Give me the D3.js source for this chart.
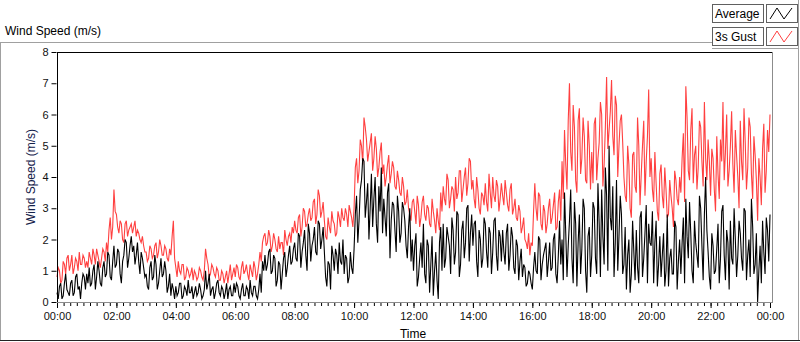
<!DOCTYPE html>
<meta charset="utf-8">
<title>Wind Speed</title>
<style>
body { margin: 0; background: #fff; }
svg { display: block; font-family: "Liberation Sans", Arial, sans-serif; }
.tick text { font-size: 11px; fill: #111; }
</style>
<svg width="800" height="342"></svg>
<script src="https://d3js.org/d3.v7.min.js"></script>
<script>
// readings on the 5-minute marks, 00:00 .. 24:00
const stepMinutes = 5;

const gust = [
  0.8,1.0,0.7,1.2,1.4,1.0,1.5,1.1,1.3,1.6,1.2,1.4,
  1.3,1.6,1.2,1.5,1.7,1.3,1.4,1.6,1.9,2.3,2.0,3.6,
  2.8,2.2,2.5,1.9,2.6,2.3,2.5,2.4,2.1,2.2,1.9,1.8,
  1.6,1.4,1.7,1.5,1.9,1.6,1.8,1.5,1.7,1.3,1.5,2.6,
  1.1,1.3,0.9,1.2,0.8,1.0,0.9,0.7,0.9,0.8,1.0,0.7,
  1.7,1.2,0.9,1.1,0.8,1.0,0.7,0.9,0.8,0.6,1.2,0.9,
  0.8,1.1,0.7,1.3,1.0,0.9,1.2,0.8,1.1,0.9,1.6,1.9,
  2.2,1.9,2.1,1.8,2.0,1.6,1.7,1.9,2.3,1.8,2.2,2.4,
  2.6,2.2,2.8,2.4,2.9,2.5,3.0,2.7,3.3,2.8,3.4,2.9,
  2.6,2.0,2.4,2.9,2.5,2.2,2.7,3.0,2.6,2.8,3.1,2.7,
  3.0,4.6,4.2,5.0,5.9,5.2,4.8,5.4,4.6,4.9,4.3,5.1,
  4.4,4.0,4.7,4.1,4.3,3.6,3.9,3.4,3.7,3.2,3.0,2.6,
  3.3,2.5,3.1,2.7,3.4,2.6,3.0,2.4,2.9,2.2,2.6,3.5,
  3.7,3.1,3.9,3.3,3.6,4.0,3.5,4.2,3.6,4.3,3.8,4.5,
  3.9,3.0,3.6,2.8,3.4,3.8,2.9,3.5,4.0,3.2,3.7,3.3,
  3.4,3.9,3.1,3.6,2.8,3.3,2.6,2.9,2.4,2.0,1.7,1.5,
  1.8,3.8,2.6,3.4,2.3,2.9,2.5,3.3,2.7,3.5,2.4,3.6,
  4.5,5.5,3.6,7.0,4.2,5.6,3.5,6.2,4.6,5.3,3.8,5.0,
  4.8,5.7,3.9,5.1,6.0,4.4,7.2,5.5,7.1,4.7,6.3,5.0,
  6.0,4.0,3.2,4.4,2.7,4.8,3.5,5.0,4.1,5.8,4.5,6.8,
  4.6,3.2,3.8,2.6,4.4,3.0,3.6,2.8,3.4,2.4,3.9,3.1,
  3.5,5.4,6.9,4.2,5.5,3.8,5.0,4.3,5.6,3.7,4.6,5.2,
  3.4,4.6,2.9,4.1,5.2,6.4,4.8,3.7,5.0,4.4,5.5,4.0,
  5.8,3.9,5.1,4.3,5.6,3.3,4.7,2.6,4.0,4.9,3.5,5.5,6.0
];

// readings half way between the 5-minute marks
const gustHalf = [
  1.1,0.6,1.3,0.9,1.5,1.2,0.9,1.4,1.0,1.2,1.5,1.1,
  1.1,1.4,1.7,1.2,1.5,1.1,1.7,1.3,1.6,2.7,2.4,2.9,
  2.4,2.6,2.0,2.5,2.1,2.4,2.2,2.6,2.3,2.0,2.1,1.6,
  1.3,1.8,1.4,1.8,1.4,2.0,1.5,1.8,1.4,1.7,2.1,1.4,
  0.8,1.0,1.2,0.7,1.1,0.8,1.1,1.0,0.7,1.1,0.8,1.0,
  1.4,0.8,1.2,0.9,1.1,0.7,1.0,0.6,1.0,0.9,0.7,1.1,
  1.2,0.8,1.1,0.9,1.2,0.7,1.0,1.3,0.7,1.2,1.3,2.1,
  1.8,2.3,1.6,2.2,1.7,2.1,1.9,1.5,2.0,2.1,1.9,2.2,
  2.3,2.7,2.1,3.0,2.4,2.8,2.6,3.2,2.5,3.6,2.7,3.2,
  2.1,2.7,2.2,2.6,2.1,2.9,2.4,2.7,3.0,2.4,2.9,2.4,
  4.3,3.8,5.2,4.4,5.6,4.5,5.1,4.2,5.3,4.0,4.8,4.1,
  3.7,4.4,3.8,4.5,3.7,4.2,3.5,4.0,3.1,3.6,2.8,3.2,
  2.9,3.4,2.4,3.2,2.8,3.1,2.5,3.3,2.6,3.0,2.3,2.9,
  3.3,4.1,3.0,3.7,2.9,3.3,4.2,3.2,4.0,3.4,4.6,3.6,
  3.3,4.0,3.0,3.5,3.1,3.2,4.1,3.0,3.4,3.9,2.9,3.8,
  3.1,3.5,2.9,3.8,3.0,2.7,3.1,2.2,2.7,1.9,2.2,1.9,
  2.9,3.0,3.5,2.5,3.1,2.2,3.0,2.5,3.1,2.3,3.2,2.6,
  3.3,4.4,5.8,4.8,6.3,3.9,5.8,4.1,5.9,3.9,5.8,3.6,
  3.8,5.9,4.6,6.4,3.7,5.6,4.9,6.1,5.3,6.6,4.0,5.8,
  5.1,3.4,5.0,3.0,4.7,3.7,5.9,3.1,5.0,3.4,5.3,4.0,
  3.6,4.8,2.9,4.1,3.4,4.3,2.7,3.9,3.0,4.2,3.3,4.0,
  4.6,3.2,5.9,3.9,6.2,4.7,3.6,5.8,4.5,6.4,3.9,4.5,
  4.9,3.6,5.3,3.3,4.5,3.9,6.0,4.2,6.1,3.5,4.7,3.0,
  4.5,6.2,3.6,5.9,4.1,5.3,3.9,4.6,3.1,5.7,4.2,4.8
];

const average = [
  0.3,0.5,0.1,0.6,0.4,0.2,0.7,0.3,0.9,0.5,0.6,0.8,
  0.9,1.1,0.6,1.2,0.8,1.0,0.5,1.3,0.9,1.5,0.7,1.8,
  1.2,1.6,0.6,1.5,1.9,1.4,2.1,1.8,1.5,1.3,1.6,1.1,
  0.9,0.4,1.3,0.8,1.2,0.6,1.4,0.9,1.0,0.5,0.2,0.4,
  0.5,0.3,0.6,0.2,0.4,0.7,0.3,0.1,0.5,0.3,0.4,0.2,
  1.0,0.6,0.2,0.5,0.3,0.7,0.2,0.4,0.3,0.1,0.5,0.2,
  0.3,0.5,0.1,0.6,0.2,0.4,0.7,0.2,0.5,0.1,0.9,1.3,
  1.5,1.2,1.7,1.0,1.4,0.7,1.2,0.9,1.6,1.1,1.8,1.3,
  1.9,1.3,2.1,1.6,2.3,1.0,2.2,1.8,2.4,1.5,2.5,2.0,
  1.6,0.5,1.2,1.8,1.0,1.5,1.9,1.2,0.9,1.4,0.8,1.1,
  1.7,3.4,2.6,3.9,4.5,3.2,2.0,4.1,3.3,2.5,3.7,4.3,
  3.3,2.1,3.8,2.6,3.1,1.6,2.9,2.2,3.0,1.8,2.4,1.3,
  1.0,2.2,0.8,1.9,2.5,0.6,1.8,1.2,0.2,1.6,0.1,2.4,
  2.5,1.4,2.1,0.9,2.3,1.6,2.8,1.2,2.6,1.9,3.1,2.2,
  1.8,2.6,0.8,2.0,1.4,2.5,1.1,2.2,1.6,2.7,1.0,2.1,
  2.3,1.2,2.5,1.5,2.1,0.9,1.8,1.3,0.8,1.1,0.6,0.9,
  0.4,1.6,0.9,2.0,1.2,1.7,0.8,1.9,1.1,2.2,0.6,2.6,
  2.0,3.5,0.8,2.6,1.4,3.2,0.5,2.8,1.7,3.0,0.3,2.4,
  1.5,3.0,0.9,2.5,3.6,1.2,3.4,5.0,2.3,0.8,3.9,2.1,
  2.8,1.2,0.4,2.0,0.9,1.6,2.3,0.6,2.9,1.4,3.1,2.5,
  1.8,0.6,2.6,1.2,0.8,2.2,1.0,0.5,1.7,0.9,2.4,1.3,
  0.9,2.7,3.3,1.4,2.2,0.6,1.9,1.1,3.0,0.7,4.0,1.6,
  0.4,1.8,1.0,2.5,1.4,3.1,0.7,1.9,2.6,1.2,2.0,1.5,
  2.2,1.0,2.9,1.5,0.8,2.4,1.2,0.0,1.8,2.6,0.9,2.3,2.8
];

const averageHalf = [
  0.1,0.6,0.2,0.9,0.3,0.6,0.2,0.8,0.4,0.1,0.9,0.4,
  0.6,0.5,1.0,0.4,1.3,0.6,1.1,0.8,1.6,0.8,1.3,1.1,
  1.7,0.9,1.3,2.0,1.1,1.8,1.6,1.2,1.9,0.9,1.4,0.8,
  0.5,1.1,0.7,1.5,0.4,1.0,0.8,1.3,0.3,0.9,0.6,0.1,
  0.2,0.6,0.1,0.5,0.2,0.3,0.5,0.3,0.2,0.6,0.1,0.4,
  0.4,0.9,0.4,0.1,0.6,0.3,0.5,0.1,0.6,0.4,0.2,0.6,
  0.6,0.2,0.4,0.2,0.5,0.1,0.3,0.5,0.2,0.4,0.3,1.0,
  1.0,1.6,0.9,1.5,0.5,1.3,0.4,1.4,0.8,1.5,1.2,1.7,
  1.4,2.2,1.1,1.9,1.5,2.5,1.3,2.0,1.6,2.6,1.7,2.4,
  0.8,1.3,0.4,1.5,1.7,0.9,1.3,2.0,1.5,0.6,1.6,0.9,
  2.8,1.9,3.6,4.6,2.7,3.8,3.0,2.4,4.0,1.9,2.9,2.2,
  2.7,3.5,1.4,3.2,2.3,3.4,1.9,3.2,2.6,1.4,3.0,2.0,
  1.8,0.5,1.4,1.1,0.9,2.0,0.3,2.1,1.0,0.7,1.9,1.0,
  1.1,2.4,1.8,2.7,1.2,2.9,0.8,2.3,1.4,3.0,1.3,2.8,
  2.5,1.3,2.3,1.1,2.7,1.6,2.4,0.9,2.6,1.5,2.3,1.3,
  1.6,2.2,1.0,2.4,1.1,2.0,0.7,1.7,1.2,0.5,1.0,0.6,
  1.1,1.0,2.1,0.7,1.5,1.9,1.3,1.0,2.0,0.9,1.5,1.2,
  0.7,2.2,1.8,3.6,0.6,2.5,1.9,0.9,3.3,1.0,2.1,0.8,
  3.2,1.4,3.8,0.8,2.1,4.3,1.0,2.7,3.7,1.9,1.0,3.4,
  0.9,2.4,1.5,0.3,2.6,0.7,1.1,2.7,0.8,2.2,0.6,1.9,
  2.9,1.9,0.5,2.1,1.5,0.5,2.8,1.4,0.9,2.6,0.4,2.0,
  1.9,0.6,2.1,3.2,1.0,2.6,1.5,3.4,1.8,2.8,2.3,0.8,
  2.2,0.9,1.7,0.6,2.9,1.5,2.3,0.4,1.4,3.0,0.8,2.6,
  1.4,3.0,0.7,2.0,3.3,0.9,2.2,1.0,0.6,1.6,2.7,1.3
];

const yTicks = [0, 1, 2, 3, 4, 5, 6, 7, 8];
const legendNames = ["Average", "3s Gust"];
const legendColors = ["#000000", "#ff4040"];

const svg = d3.select("svg");

// panel frame
svg.append("line").attr("x1", 0).attr("x2", 712).attr("y1", 42.5).attr("y2", 42.5).attr("stroke", "#a0a0a0");
svg.append("line").attr("x1", 712).attr("x2", 799).attr("y1", 48.5).attr("y2", 48.5).attr("stroke", "#a0a0a0");
svg.append("line").attr("x1", 0.5).attr("x2", 0.5).attr("y1", 42).attr("y2", 341).attr("stroke", "#a0a0a0");
svg.append("line").attr("x1", 798.5).attr("x2", 798.5).attr("y1", 0).attr("y2", 341).attr("stroke", "#a0a0a0");
svg.append("line").attr("x1", 0).attr("x2", 800).attr("y1", 340.5).attr("y2", 340.5).attr("stroke", "#222");

svg.append("text").attr("x", 5).attr("y", 35).attr("font-size", 12).attr("fill", "#000").text("Wind Speed (m/s)");

const day = new Date(2000, 0, 1);
const at = m => d3.timeSecond.offset(day, Math.round(m * 60));

// put the mark readings and the half-step readings in time order
function series(marks, halves) {
  const pts = [];
  marks.forEach((v, i) => {
    pts.push([at(i * stepMinutes), v]);
    if (i < halves.length) pts.push([at(i * stepMinutes + stepMinutes / 2), halves[i]]);
  });
  return pts;
}

const x = d3.scaleTime().domain([day, d3.timeDay.offset(day, 1)]).range([57, 770]);
const y = d3.scaleLinear().domain([0, 8]).range([302, 52]);

const line = d3.line().x(d => x(d[0])).y(d => y(d[1]));

svg.append("path").datum(series(gust, gustHalf)).attr("fill", "none").attr("stroke", legendColors[1])
  .attr("stroke-width", 1.1).attr("d", line);
svg.append("path").datum(series(average, averageHalf)).attr("fill", "none").attr("stroke", legendColors[0])
  .attr("stroke-width", 1.1).attr("d", line);

// plot border: black top/left, grey right/bottom
svg.append("line").attr("x1", 57).attr("x2", 772).attr("y1", 52.5).attr("y2", 52.5).attr("stroke", "#000");
svg.append("line").attr("x1", 57.5).attr("x2", 57.5).attr("y1", 52).attr("y2", 302).attr("stroke", "#000");
svg.append("line").attr("x1", 772.5).attr("x2", 772.5).attr("y1", 52).attr("y2", 303).attr("stroke", "#8c8c8c");
svg.append("line").attr("x1", 57).attr("x2", 773).attr("y1", 302.5).attr("y2", 302.5).attr("stroke", "#8c8c8c");

// y axis
const yAxis = svg.append("g").attr("transform", "translate(56.5,0)")
  .call(d3.axisLeft(y).tickValues(yTicks).tickSize(5).tickPadding(3));
yAxis.select(".domain").remove();
yAxis.selectAll(".tick line").attr("stroke", "#000");

// x axis: minor ticks, then labelled major ticks
const minor = d3.range(0, 24 * 60 + 1, 40 / 3).map(at);
svg.append("g").attr("transform", "translate(0,303)")
  .call(d3.axisBottom(x).tickValues(minor).tickSize(3).tickFormat(""))
  .call(g => g.select(".domain").remove())
  .call(g => g.selectAll(".tick line").attr("stroke", "#000"));
svg.append("g").attr("transform", "translate(0,303)")
  .call(d3.axisBottom(x).ticks(d3.timeHour.every(2)).tickSize(5).tickPadding(4).tickFormat(d3.timeFormat("%H:%M")))
  .call(g => g.select(".domain").remove())
  .call(g => g.selectAll(".tick line").attr("stroke", "#000"));

svg.append("text").attr("x", 413).attr("y", 338).attr("text-anchor", "middle")
  .attr("font-size", 12).attr("fill", "#000").text("Time");
svg.append("text").attr("transform", "translate(35,177) rotate(-90)").attr("text-anchor", "middle")
  .attr("font-size", 12).attr("fill", "#14214a").text("Wind Speed (m/s)");

// legend
legendNames.forEach((name, i) => {
  const g = svg.append("g").attr("transform", `translate(712,${4 + i * 23})`);
  g.append("rect").attr("x", 0.5).attr("y", 0.5).attr("width", 51).attr("height", 18)
    .attr("fill", "#fff").attr("stroke", "#606060");
  g.append("text").attr("x", 3).attr("y", 14).attr("font-size", 12).attr("fill", "#000").text(name);
  g.append("rect").attr("x", 54.5).attr("y", 0.5).attr("width", 31).attr("height", 18)
    .attr("fill", "#fff").attr("stroke", "#606060");
  g.append("path").attr("d", "M58,15 L65,4 L72,15 L80,4").attr("fill", "none")
    .attr("stroke", legendColors[i]).attr("stroke-width", 1);
});
</script>
